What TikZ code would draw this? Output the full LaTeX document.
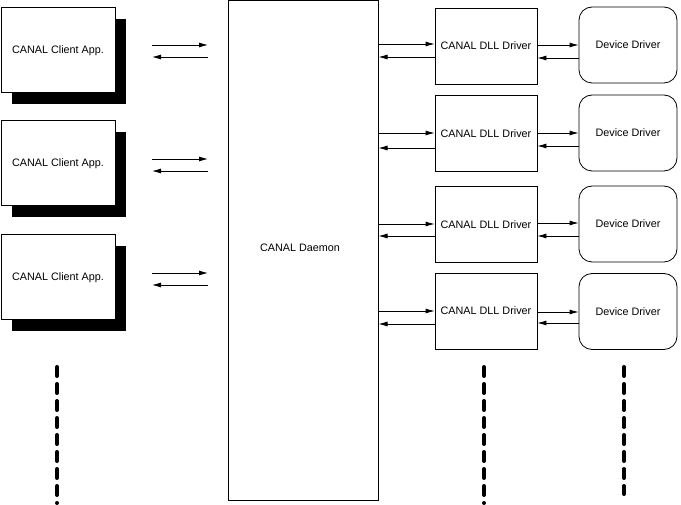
\documentclass[tikz,border=0pt]{standalone}
\usepackage{fontspec}
\setmainfont{Liberation Sans}
\usetikzlibrary{arrows.meta}
\begin{document}
\begin{tikzpicture}[x=1pt,y=-1pt,
  every node/.style={inner sep=0pt,font=\fontsize{10.8}{12}\selectfont},
  client/.style={draw,line width=1pt,fill=white,minimum width=114pt,minimum height=85pt},
  shadowbox/.style={fill=black,minimum width=114pt,minimum height=85pt},
  dll/.style={draw,line width=0.8pt,minimum width=102pt,minimum height=76pt},
  device/.style={draw,line width=0.8pt,rounded corners=13pt,minimum width=98pt,minimum height=76pt},
  arr/.style={line width=0.8pt,-{Latex[length=9pt,width=5pt]}},
  dots/.style={line width=4pt,line cap=round,dash pattern=on 9pt off 8pt}]
\useasboundingbox (0,0) rectangle (681,505);

% client applications with drop shadows
\foreach \i/\cy in {1/50.5,2/163.5,3/277.5}{
  \node[shadowbox] (sh\i) at (69,\cy+11) {};
  \node[client] (cl\i) at (58,\cy) {CANAL Client App.};
}

% daemon
\node[draw,line width=1pt,minimum width=150pt,minimum height=499pt] (daemon) at (303,250.5) {};
\node at (300,248) {CANAL Daemon};

% DLL drivers and device drivers
\node[dll] (dll1) at (486,46) {CANAL DLL Driver};
\node[dll] (dll2) at (486,133.5) {CANAL DLL Driver};
\node[dll] (dll3) at (486,224.5) {CANAL DLL Driver};
\node[dll] (dll4) at (486,311) {CANAL DLL Driver};
\node[device] (dev1) at (628,45) {Device Driver};
\node[device] (dev2) at (628,133) {Device Driver};
\node[device] (dev3) at (628,224) {Device Driver};
\node[device] (dev4) at (628,311.5) {Device Driver};

% client <-> daemon arrows
\foreach \i/\ya/\yb in {1/45/57,2/159/171,3/273/285}{
  \coordinate (ca\i) at (152,\ya);
  \coordinate (da\i) at (208,\ya);
  \coordinate (cb\i) at (152,\yb);
  \coordinate (db\i) at (208,\yb);
  \draw[arr] (ca\i) -- (da\i);
  \draw[arr] (db\i) -- (cb\i);
}

% daemon <-> DLL arrows
\foreach \i/\ya/\yb in {1/44/57,2/133/148,3/224/236,4/311/324}{
  \draw[arr] (daemon.east |- 0,\ya) -- (dll\i.west |- 0,\ya);
  \draw[arr] (dll\i.west |- 0,\yb) -- (daemon.east |- 0,\yb);
}

% DLL <-> device arrows
\foreach \i/\ya/\yb in {1/45/58,2/133/146,3/223/236,4/312/323}{
  \draw[arr] (dll\i.east |- 0,\ya) -- (dev\i.west |- 0,\ya);
  \draw[arr] (dev\i.west |- 0,\yb) -- (dll\i.east |- 0,\yb);
}

% continuation marks
\coordinate (m1a) at (57,367); \coordinate (m1b) at (57,503);
\coordinate (m2a) at (484,367); \coordinate (m2b) at (484,503);
\coordinate (m3a) at (624,367); \coordinate (m3b) at (624,494);
\draw[dots] (m1a) -- (m1b);
\draw[dots] (m2a) -- (m2b);
\draw[dots] (m3a) -- (m3b);
\end{tikzpicture}
\end{document}
